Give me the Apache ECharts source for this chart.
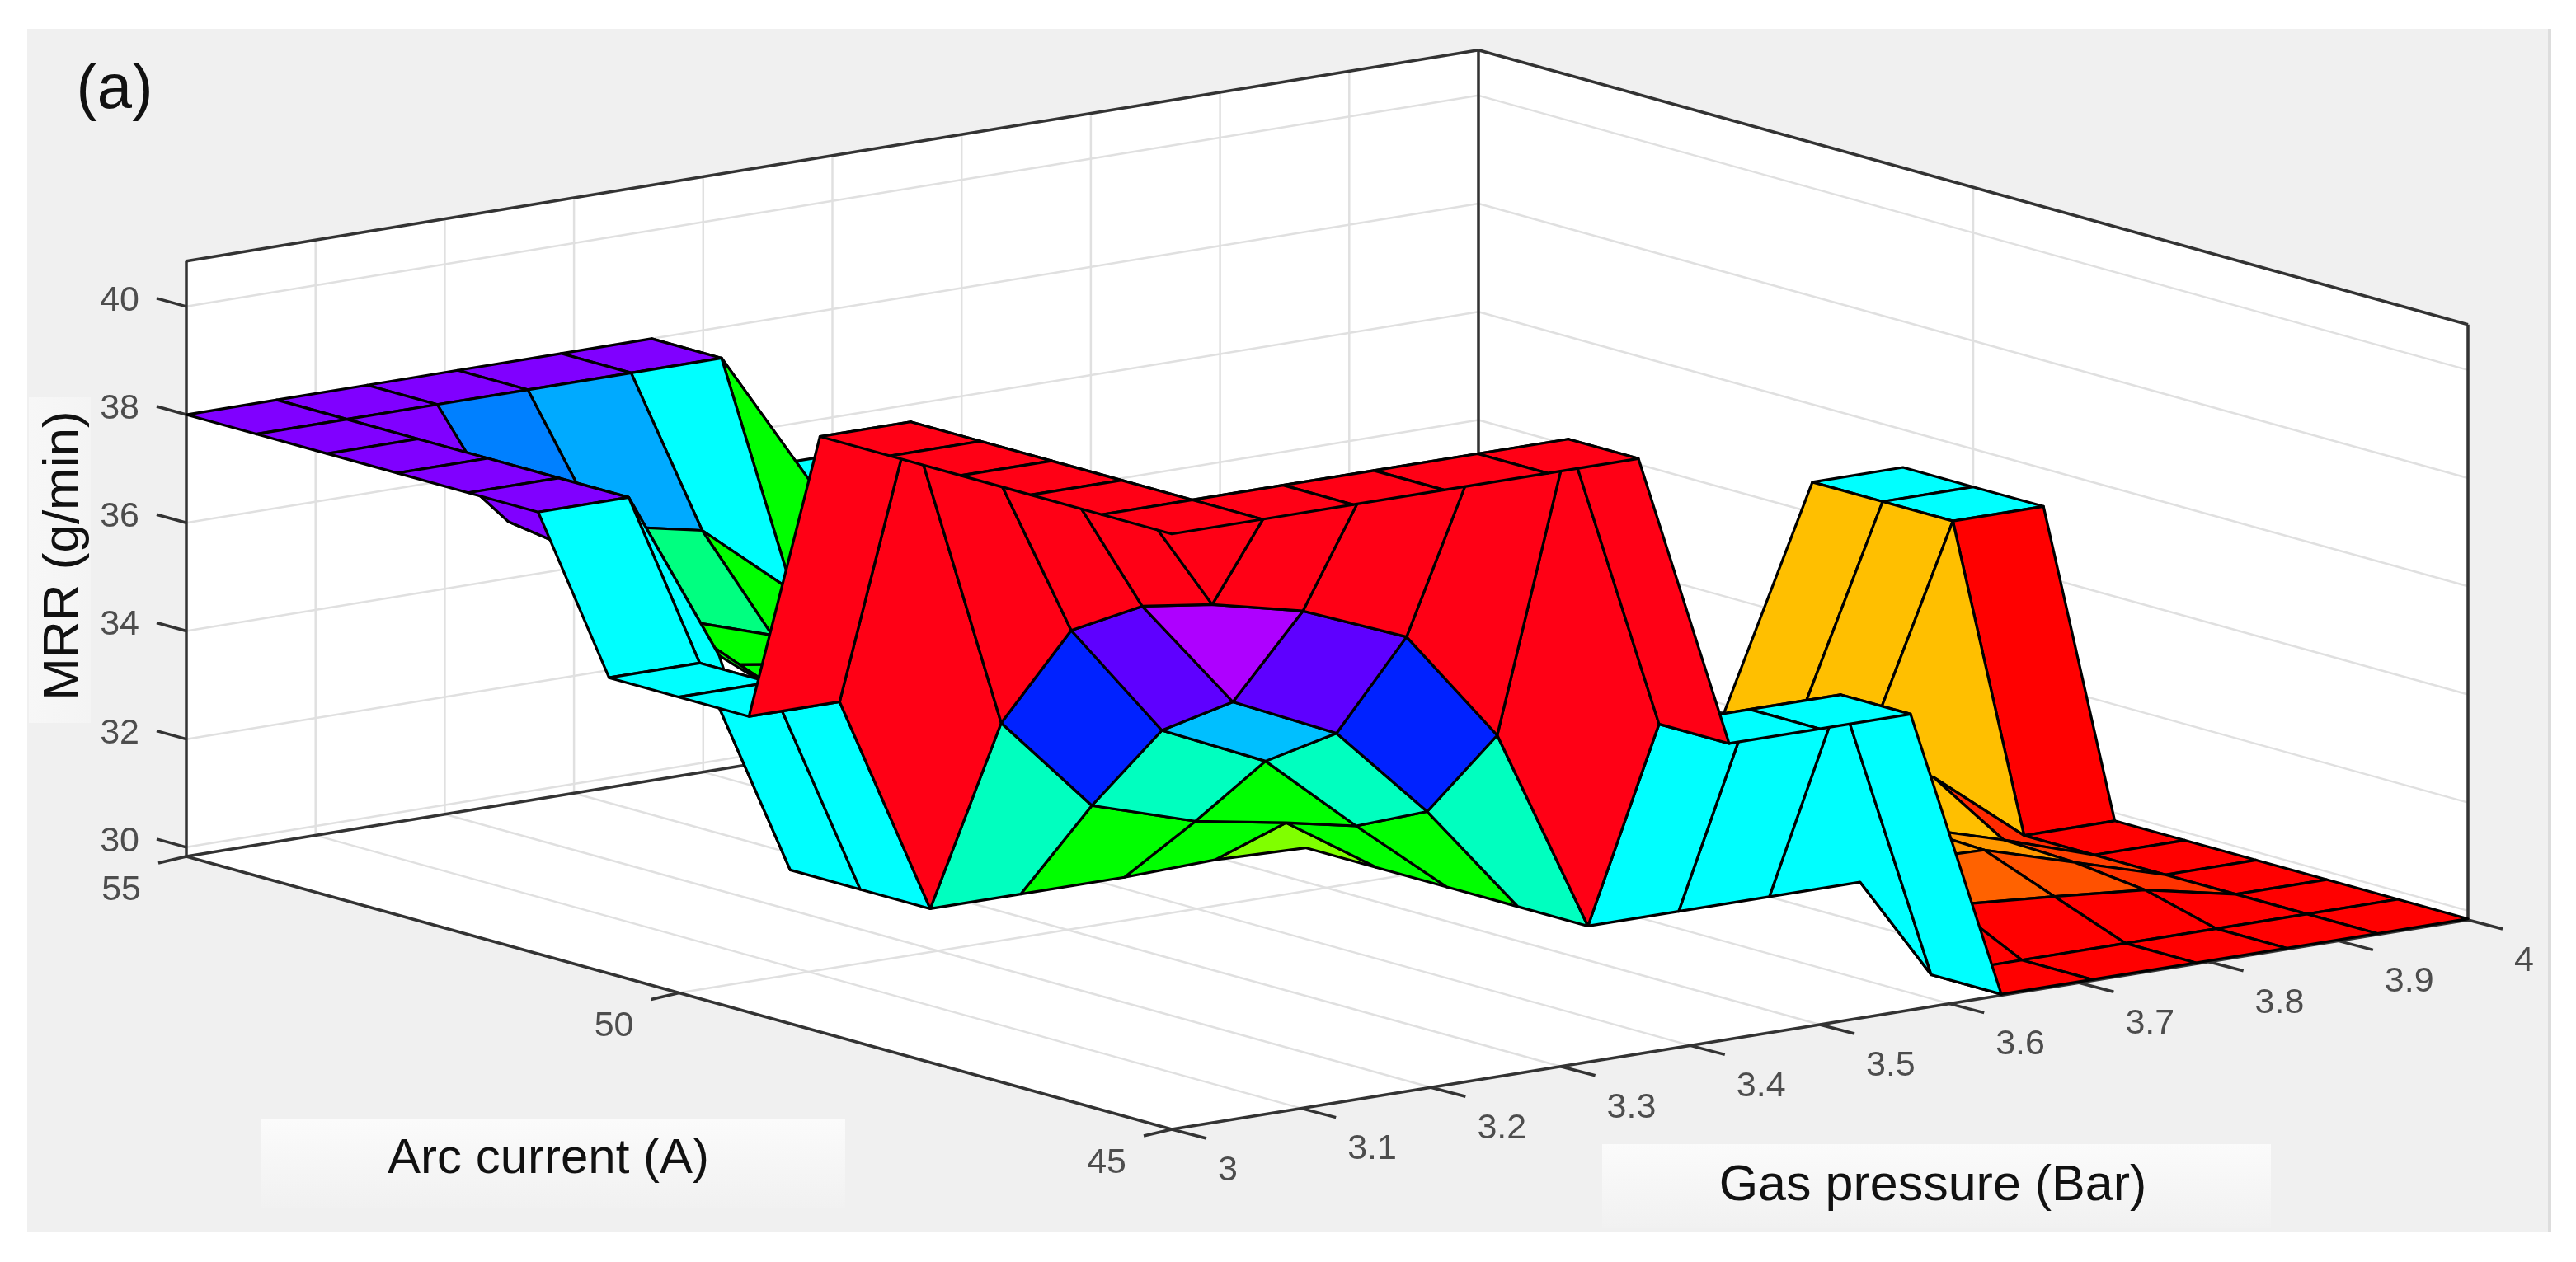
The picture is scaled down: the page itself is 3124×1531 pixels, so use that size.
<!DOCTYPE html>
<html>
<head>
<meta charset="utf-8">
<title>MRR surface (a)</title>
<style>html,body{margin:0;padding:0;background:#fff}#chart{width:3124px;height:1531px}</style>
<script src="https://cdn.jsdelivr.net/npm/echarts@6/dist/echarts.min.js"></script>
</head>
<body>
<div id="chart"></div>
<script>
// ---------- data ----------
const gasGrid = [3, 3.07, 3.14, 3.21, 3.29, 3.36, 3.43, 3.5, 3.57, 3.64, 3.71, 3.79, 3.86, 3.93, 4];
const arcGrid = [55, 54.29, 53.57, 52.86, 52.14, 51.43, 50.71, 50, 49.29, 48.57, 47.86, 47.14, 46.43, 45.71, 45];
const gasTicks = [3, 3.1, 3.2, 3.3, 3.4, 3.5, 3.6, 3.7, 3.8, 3.9, 4];
const arcTicks = [45, 50, 55];
const mrrTicks = [30, 32, 34, 36, 38, 40];
const _ = null;
// MRR (g/min): one row per gas pressure, one column per arc current (55 -> 45)
const mrr00 = [38, 38, 38, 38, 38, 38, 35.3, 35.3, 35.3, 40.84, 40.84, 40.84, 40.84, 40.84, 40.84];
const mrr01 = [38, 38, 38, 38, 38, 38, 35.3, 35.3, 35.3, 40.84, 40.84, 40.84, 40.84, 40.84, 40.84];
const mrr02 = [38, 38, 36.2, 36, 35.4, 34.8, 31.2, 31.2, 31.2, 35, 37.07, 37.88, 38.27, 40.84, 40.84];
const mrr03 = [38, 38, 35.85, 34.5, 34, 33.5, _, _, 31.2, 33.2, 34.95, 35.84, 37.88, 40.84, 40.84];
const mrr04 = [38, 38, 35.45, 33.87, 33.7, 33.2, _, _, 31.2, 32.6, 34.07, 34.95, 37.09, 40.84, 40.84];
const mrr05 = [38, 38, 34.05, 33.7, 33.4, 33, _, _, 31.25, 32.3, 32.6, 33.23, 35, 40.84, 40.84];
const mrr06 = [35.3, 35.4, 33.8, _, _, _, _, _, 31.2, 31.2, 31.2, 31.2, 31.2, 35.3, 35.3];
const mrr07 = [35.3, 35.3, _, _, _, _, _, _, _, _, _, _, 31.2, 35.3, 35.3];
const mrr08 = [_, _, _, _, _, _, _, _, _, _, _, _, 31.2, 35.3, 35.3];
const mrr09 = [_, _, _, _, _, _, _, _, _, _, _, _, 31.2, 29.85, 29.85];
const mrr10 = [_, _, _, _, _, _, _, _, _, 31.2, 31, 30.9, 30.5, 29.85, 29.85];
const mrr11 = [_, _, _, _, _, _, _, _, _, 31.2, 30.9, 30.85, 30.35, 29.85, 29.85];
const mrr12 = [_, _, _, _, _, _, 31.2, 31.2, 31.2, 31.2, 30.4, 30.35, 30.2, 29.85, 29.85];
const mrr13 = [_, _, _, _, _, _, 35.3, 35.3, 35.3, 29.85, 29.85, 29.85, 29.85, 29.85, 29.85];
const mrr14 = [_, _, _, _, _, _, 35.3, 35.3, 35.3, 29.85, 29.85, 29.85, 29.85, 29.85, 29.85];
const mrr = [mrr00, mrr01, mrr02, mrr03, mrr04, mrr05, mrr06, mrr07, mrr08, mrr09, mrr10, mrr11, mrr12, mrr13, mrr14];
// colour data of each facet (hue on the hsv colour map), same row / column order
const tone00 = [270, 270, 270, 270, 270, 180, 180, 180, 355, 355, 355, 355, 355, 355];
const tone01 = [270, 270, 270, 270, 270, 180, 180, 180, 355, 355, 355, 355, 355, 355];
const tone02 = [270, 210, 120, 120, 120, _, _, _, 165, 232, 262, 281, 355, 355];
const tone03 = [270, 200, 150, 120, 120, _, _, _, 120, 165, 195, 262, 355, 355];
const tone04 = [270, 180, 120, 120, 120, _, _, _, 120, 120, 165, 232, 355, 355];
const tone05 = [120, 120, _, _, _, _, _, _, 90, 120, 120, 165, 355, 355];
const tone06 = [180, _, _, _, _, _, _, _, _, _, _, _, 180, 180];
const tone07 = [_, _, _, _, _, _, _, _, _, _, _, _, 180, 180];
const tone08 = [_, _, _, _, _, _, _, _, _, _, _, _, 180, 180];
const tone09 = [_, _, _, _, _, _, _, _, _, _, _, _, 0, 0];
const tone10 = [_, _, _, _, _, _, _, _, _, 45, 36, 23, 0, 0];
const tone11 = [_, _, _, _, _, _, _, _, _, 45, 36, 19, 0, 0];
const tone12 = [_, _, _, _, _, _, 45, 45, 45, 10, 15, 12, 0, 0];
const tone13 = [_, _, _, _, _, _, 180, 180, 0, 0, 0, 0, 0, 0];
const tones = [tone00, tone01, tone02, tone03, tone04, tone05, tone06, tone07, tone08, tone09, tone10, tone11, tone12, tone13];

// ---------- oblique 3-D scale: (gas, arc, mrr) to plane coordinates ----------
const FLOOR = 29.83, TOP = 40.84, UNIT = 65.6;
const cF = [1421, 1370], cR = [2993, 1116], cL = [226, 1039], cB = [1793, 783];
function plane(gas, arc, m) {
  const u = gas - 3, v = (arc - 45) / 10;
  const x = (1 - u) * (1 - v) * cF[0] + u * (1 - v) * cR[0] + (1 - u) * v * cL[0] + u * v * cB[0];
  const y = (1 - u) * (1 - v) * cF[1] + u * (1 - v) * cR[1] + (1 - u) * v * cL[1] + u * v * cB[1];
  return [x, y - (m - FLOOR) * UNIT];
}

// far facets first, near facets last
const cells = [];
for (let i = tones.length - 1; i >= 0; i--) {
  for (let k = 0; k < tones[i].length; k++) {
    if (tones[i][k] === null) continue;
    if ([mrr[i][k], mrr[i + 1][k], mrr[i + 1][k + 1], mrr[i][k + 1]].includes(null)) continue;
    cells.push([i, k]);
  }
}

const BOX = '#333333', GRID = '#e0e0e0', TICK = '#4d4d4d';

// box faces
const faces = [
  [[3, 55, FLOOR], [4, 55, FLOOR], [4, 55, TOP], [3, 55, TOP]],
  [[4, 55, FLOOR], [4, 45, FLOOR], [4, 45, TOP], [4, 55, TOP]],
  [[3, 55, FLOOR], [4, 55, FLOOR], [4, 45, FLOOR], [3, 45, FLOOR]]
];
// grid lines on walls and floor
const gridLines = [];
gasTicks.forEach(g => {
  gridLines.push([[g, 55, FLOOR], [g, 55, TOP]]);
  gridLines.push([[g, 45, FLOOR], [g, 55, FLOOR]]);
});
arcTicks.forEach(a => {
  gridLines.push([[4, a, FLOOR], [4, a, TOP]]);
  gridLines.push([[3, a, FLOOR], [4, a, FLOOR]]);
});
mrrTicks.forEach(m => {
  gridLines.push([[3, 55, m], [4, 55, m]]);
  gridLines.push([[4, 55, m], [4, 45, m]]);
});
// box edges
const boxLines = [
  [[3, 55, FLOOR], [3, 55, TOP]], [[4, 55, FLOOR], [4, 55, TOP]], [[4, 45, FLOOR], [4, 45, TOP]],
  [[3, 55, TOP], [4, 55, TOP]], [[4, 55, TOP], [4, 45, TOP]],
  [[3, 55, FLOOR], [4, 55, FLOOR]], [[4, 55, FLOOR], [4, 45, FLOOR]],
  [[3, 55, FLOOR], [3, 45, FLOOR]], [[3, 45, FLOOR], [4, 45, FLOOR]]
];

function polyItem(api, pts, style) {
  return { type: 'polygon', shape: { points: pts.map(p => api.coord(plane(p[0], p[1], p[2]))) }, style };
}
function lineItem(api, seg, style) {
  const a = api.coord(plane(...seg[0])), b = api.coord(plane(...seg[1]));
  return { type: 'line', shape: { x1: a[0], y1: a[1], x2: b[0], y2: b[1] }, style };
}
function tickItem(api, d, dx, dy, lx, ly, align) {
  const p = api.coord(plane(d[0], d[1], d[2]));
  return {
    type: 'group',
    children: [
      { type: 'line', shape: { x1: p[0], y1: p[1], x2: p[0] + dx, y2: p[1] + dy },
        style: { stroke: BOX, lineWidth: 3.5 } },
      { type: 'text', style: { x: p[0] + lx, y: p[1] + ly, text: String(d[3]), align, verticalAlign: 'middle',
        fill: TICK, font: '43px "Liberation Sans", Arial, sans-serif' } }
    ]
  };
}
const base = { type: 'custom', coordinateSystem: 'cartesian2d', silent: true, animation: false, clip: false };

const option = {
  animation: false,
  backgroundColor: '#ffffff',
  grid: { left: 33, top: 35, width: 3060, height: 1459, show: true, backgroundColor: '#f0f0f0', borderWidth: 0 },
  xAxis: { type: 'value', min: 33, max: 3093, show: false },
  yAxis: { type: 'value', min: 35, max: 1494, inverse: true, show: false },
  graphic: [
    { type: 'rect', z: 1, shape: { x: 3090, y: 35, width: 4, height: 1459 }, style: { fill: '#dddddd' } },
    { type: 'rect', z: 1, shape: { x: 35, y: 482, width: 75, height: 395 },
      style: { fill: { type: 'linear', x: 0, y: 0, x2: 1, y2: 0, colorStops: [{ offset: 0, color: '#f7f7f7' }, { offset: 1, color: '#f4f4f4' }] } } },
    { type: 'rect', z: 1, shape: { x: 316, y: 1358, width: 709, height: 107 },
      style: { fill: { type: 'linear', x: 0, y: 0, x2: 0, y2: 1, colorStops: [{ offset: 0, color: '#fbfbfb' }, { offset: 1, color: '#f1f1f1' }] } } },
    { type: 'rect', z: 1, shape: { x: 1943, y: 1388, width: 811, height: 102 },
      style: { fill: { type: 'linear', x: 0, y: 0, x2: 0, y2: 1, colorStops: [{ offset: 0, color: '#fbfbfb' }, { offset: 1, color: '#f1f1f1' }] } } },
    { type: 'text', z: 5, x: 139, y: 110, style: { text: '(a)', align: 'center', verticalAlign: 'middle', fill: '#111', font: '76px "Liberation Sans", Arial, sans-serif' } },
    { type: 'text', z: 5, x: 78, y: 674, rotation: Math.PI / 2, style: { text: 'MRR (g/min)', align: 'center', verticalAlign: 'middle', fill: '#111', font: '62px "Liberation Sans", Arial, sans-serif' } },
    { type: 'text', z: 5, x: 665, y: 1406, style: { text: 'Arc current (A)', align: 'center', verticalAlign: 'middle', fill: '#111', font: '60px "Liberation Sans", Arial, sans-serif' } },
    { type: 'text', z: 5, x: 2344, y: 1439, style: { text: 'Gas pressure (Bar)', align: 'center', verticalAlign: 'middle', fill: '#111', font: '61px "Liberation Sans", Arial, sans-serif' } }
  ],
  series: [
    Object.assign({}, base, { name: 'box faces', z: 2, data: faces.map((f, n) => [n]),
      renderItem: (p, api) => polyItem(api, faces[api.value(0)], { fill: '#ffffff' }) }),
    Object.assign({}, base, { name: 'grid lines', z: 3, data: gridLines.map((f, n) => [n]),
      renderItem: (p, api) => lineItem(api, gridLines[api.value(0)], { stroke: GRID, lineWidth: 2.5 }) }),
    Object.assign({}, base, { name: 'box edges', z: 4, data: boxLines.map((f, n) => [n]),
      renderItem: (p, api) => lineItem(api, boxLines[api.value(0)], { stroke: BOX, lineWidth: 3.5 }) }),
    Object.assign({}, base, { name: 'MRR ticks', z: 4, data: mrrTicks.map(m => [3, 55, m, m]),
      renderItem: (p, api) => tickItem(api, [api.value(0), api.value(1), api.value(2), api.value(3)], -36, -10, -57, -7, 'right') }),
    Object.assign({}, base, { name: 'arc ticks', z: 4, data: arcTicks.map(a => [3, a, FLOOR, a]),
      renderItem: (p, api) => tickItem(api, [api.value(0), api.value(1), api.value(2), api.value(3)], -34, 8, -55, 41, 'right') }),
    Object.assign({}, base, { name: 'gas ticks', z: 4, data: gasTicks.map(g => [g, 45, FLOOR, g]),
      renderItem: (p, api) => tickItem(api, [api.value(0), api.value(1), api.value(2), api.value(3)], 42, 11, 56, 50, 'left') }),
    Object.assign({}, base, { name: 'MRR surface', z: 6, data: cells,
      renderItem: (p, api) => {
        const i = api.value(0), k = api.value(1);
        const corners = [[i, k], [i + 1, k], [i + 1, k + 1], [i, k + 1]]
          .map(c => [gasGrid[c[0]], arcGrid[c[1]], mrr[c[0]][c[1]]]);
        return polyItem(api, corners, {
          fill: 'hsl(' + tones[i][k] + ',100%,50%)', stroke: '#000000', lineWidth: 3.2, lineJoin: 'round'
        });
      } })
  ]
};
echarts.init(document.getElementById('chart'), null, { renderer: 'canvas' }).setOption(option);
</script>
</body>
</html>
